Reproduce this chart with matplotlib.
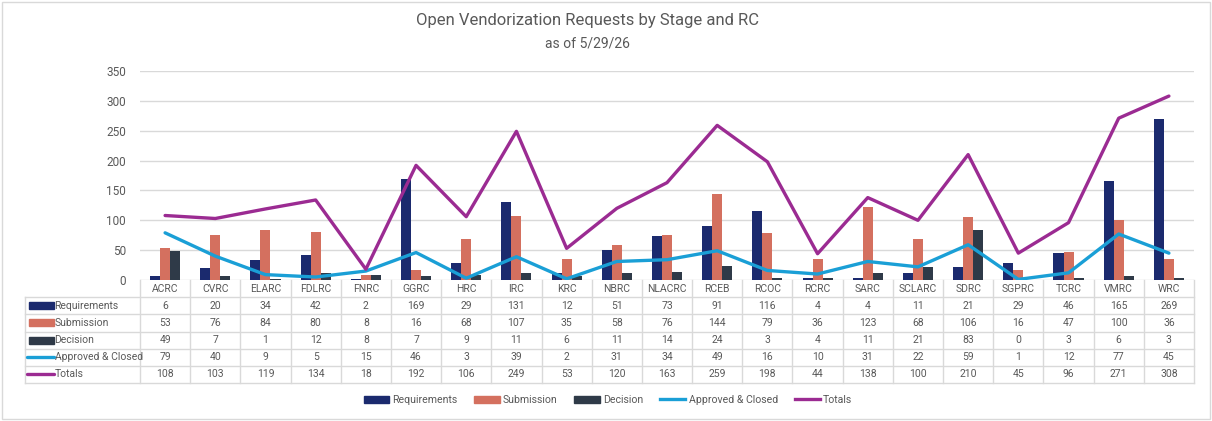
import numpy as np
import matplotlib.pyplot as plt
from matplotlib.patches import Rectangle
from matplotlib.lines import Line2D

plt.rcParams['font.family'] = ['Roboto', 'DejaVu Sans']

rcs = ['ACRC', 'CVRC', 'ELARC', 'FDLRC', 'FNRC', 'GGRC', 'HRC', 'IRC', 'KRC', 'NBRC',
       'NLACRC', 'RCEB', 'RCOC', 'RCRC', 'SARC', 'SCLARC', 'SDRC', 'SGPRC', 'TCRC',
       'VMRC', 'WRC']
requirements = [6, 20, 34, 42, 2, 169, 29, 131, 12, 51, 73, 91, 116, 4, 4, 11, 21, 29, 46, 165, 269]
submission = [53, 76, 84, 80, 8, 16, 68, 107, 35, 58, 76, 144, 79, 36, 123, 68, 106, 16, 47, 100, 36]
decision = [49, 7, 1, 12, 8, 7, 9, 11, 6, 11, 14, 24, 3, 4, 11, 21, 83, 0, 3, 6, 3]
approved = [79, 40, 9, 5, 15, 46, 3, 39, 2, 31, 34, 49, 16, 10, 31, 22, 59, 1, 12, 77, 45]
totals = [108, 103, 119, 134, 18, 192, 106, 249, 53, 120, 163, 259, 198, 44, 138, 100, 210, 45, 96, 271, 308]

series = [('Requirements', requirements, '#1b2a6e', 'bar'),
          ('Submission', submission, '#d4705f', 'bar'),
          ('Decision', decision, '#2f3a48', 'bar'),
          ('Approved & Closed', approved, '#1a9fd6', 'line'),
          ('Totals', totals, '#9b2b92', 'line')]

W, H = 1212, 421
fig = plt.figure(figsize=(W / 100, H / 100), dpi=100)
txt = '#595959'
grid = '#d9d9d9'

# outer border
fig.patches.append(Rectangle((2 / W, 2 / H), (W - 4) / W, (H - 4) / H, transform=fig.transFigure,
                             fill=False, edgecolor=grid, linewidth=1))

# main plot area: x 140..1194, y 71..280 (pixels from top)
x0, x1, ytop, ybot = 140, 1194, 71, 280
ax = fig.add_axes([x0 / W, (H - ybot) / H, (x1 - x0) / W, (ybot - ytop) / H])
n = len(rcs)
x = np.arange(n)
bw = 0.2
k = 0
for name, vals, col, kind in series:
    if kind == 'bar':
        ax.bar(x + (k - 1) * bw, vals, bw, color=col, zorder=2)
        k += 1
    else:
        ax.plot(x, vals, color=col, linewidth=2.4, solid_capstyle='round', zorder=3)
ax.set_xlim(-0.5, n - 0.5)
ax.set_ylim(0, 350)
ax.set_yticks(range(0, 351, 50))
ax.yaxis.grid(True, color=grid, linewidth=1)
ax.set_axisbelow(True)
ax.tick_params(axis='y', length=0, labelsize=8.5, labelcolor=txt, pad=10)
ax.set_xticks([])
for s in ax.spines.values():
    s.set_visible(False)

# data table under the plot
tx0, tytop, tybot = 25, 280, 383
unit = (x1 - x0) / n
lab_w = (x0 - tx0) / unit
tax = fig.add_axes([tx0 / W, (H - tybot) / H, (x1 - tx0) / W, (tybot - tytop) / H])
tax.set_xlim(-0.5 - lab_w, n - 0.5)
tax.set_ylim(6, 0)
tax.axis('off')
lk = dict(color=grid, linewidth=1, clip_on=False)
for i in range(n + 1):
    tax.plot([i - 0.5, i - 0.5], [0, 6], **lk)
tax.plot([-0.5 - lab_w, -0.5 - lab_w], [1, 6], **lk)
for r in range(1, 7):
    tax.plot([-0.5 - lab_w, n - 0.5], [r, r], **lk)
for i, rc in enumerate(rcs):
    tax.text(i, 0.5, rc, ha='center', va='center', fontsize=7.5, color=txt)
key_x0 = -0.5 - lab_w + 0.07
key_x1 = key_x0 + 0.5
for r, (name, vals, col, kind) in enumerate(series, start=1):
    yc = r + 0.5
    if kind == 'bar':
        tax.add_patch(Rectangle((key_x0, yc - 0.2), key_x1 - key_x0, 0.4, color=col, clip_on=False))
    else:
        tax.plot([key_x0 - 0.04, key_x1], [yc, yc], color=col, linewidth=2.4,
                 solid_capstyle='round', clip_on=False)
    tax.text(key_x1 + 0.02, yc, name, ha='left', va='center', fontsize=7.5, color=txt)
    for i, v in enumerate(vals):
        tax.text(i, yc, str(v), ha='center', va='center', fontsize=7.5, color=txt)

# titles
fig.text(587 / W, 1 - 21 / H, 'Open Vendorization Requests by Stage and RC', ha='center', va='center',
         fontsize=12, color=txt)
fig.text(587 / W, 1 - 44 / H, 'as of 5/29/26', ha='center', va='center', fontsize=10, color=txt)

# legend
handles = []
for name, vals, col, kind in series:
    if kind == 'bar':
        handles.append(Rectangle((0, 0), 1, 1, color=col, label=name))
    else:
        handles.append(Line2D([], [], color=col, linewidth=2.4, label=name))
fig.legend(handles=handles, loc='center', bbox_to_anchor=(608 / W, 1 - 400 / H), ncol=5,
           frameon=False, fontsize=7.6, labelcolor=txt, handlelength=2.4, handleheight=0.6,
           columnspacing=1.6, handletextpad=0.3)

fig.savefig('out.png', dpi=100)
